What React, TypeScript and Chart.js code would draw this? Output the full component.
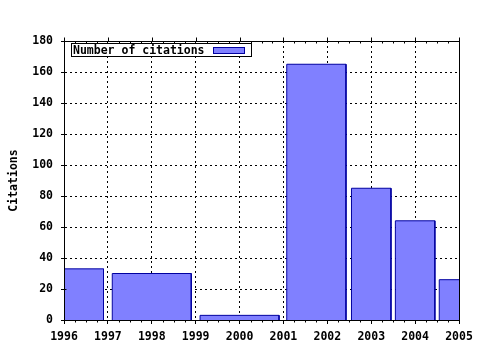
import { useEffect, useRef } from 'react';
import { Chart, registerables } from 'chart.js';

Chart.register(...registerables);

// ---- data ----
const binStarts = [1995, 1997, 1999, 2001, 2002.5, 2003.5, 2004.5];
const binEnds = [1997, 1999, 2001, 2002.5, 2003.5, 2004.5, 2005.5];
const citations = [33, 30, 3, 165, 85, 64, 26];
const yearTicks = [1996, 1997, 1998, 1999, 2000, 2001, 2002, 2003, 2004, 2005];
const citationTicks = [0, 20, 40, 60, 80, 100, 120, 140, 160, 180];
const seriesLabel = 'Number of citations';
const yTitle = 'Citations';

// ---- style ----
const BAR_FRACTION = 0.9;
const FILL = '#8080FF';
const EDGE = '#0000A0';
const FONT_FAMILY = "'DejaVu Sans Mono', monospace";
const FONT_SIZE = 11.5;

const framePlugin = {
  id: 'frameAndMinorTicks',
  afterDraw(chart: any) {
    const { ctx, chartArea: a, scales } = chart;
    const x = scales.x;
    const y = scales.y;
    const top = Math.round(a.top) + 0.5;
    const bottom = Math.round(a.bottom) + 0.5;
    const right = Math.round(a.right) + 0.5;
    const left = Math.round(a.left) + 0.5;
    ctx.save();
    ctx.strokeStyle = '#000';
    ctx.lineWidth = 1;
    ctx.setLineDash([]);
    ctx.beginPath();
    ctx.moveTo(left, top);
    ctx.lineTo(right, top);
    ctx.lineTo(right, bottom);
    yearTicks.forEach((v) => {
      const px = Math.round(x.getPixelForValue(v)) + 0.5;
      ctx.moveTo(px, top - 4);
      ctx.lineTo(px, top);
    });
    for (let i = 0; i < yearTicks.length - 1; i++) {
      for (let q = 1; q < 4; q++) {
        const v = yearTicks[i] + q / 4;
        const px = Math.round(x.getPixelForValue(v)) + 0.5;
        ctx.moveTo(px, bottom);
        ctx.lineTo(px, bottom + 2);
        ctx.moveTo(px, top);
        ctx.lineTo(px, top + 2);
      }
    }
    citationTicks.forEach((v) => {
      const py = Math.round(y.getPixelForValue(v)) + 0.5;
      ctx.moveTo(left, py);
      ctx.lineTo(left + 2, py);
    });
    ctx.stroke();

    // legend
    const ds = chart.data.datasets[0];
    ctx.font = `bold ${FONT_SIZE}px ${FONT_FAMILY}`;
    const tw = ctx.measureText(seriesLabel).width;
    const bx = Math.round(a.left) + 7;
    const by = Math.round(a.top) + 2;
    const padL = 2;
    const gap = 8.5;
    const swW = 31;
    const swH = 6;
    const padR = 7;
    const h = 13;
    const w = Math.round(padL + tw + gap + swW + padR);
    ctx.fillStyle = '#fff';
    ctx.fillRect(bx, by, w, h);
    ctx.strokeStyle = '#000';
    ctx.strokeRect(bx + 0.5, by + 0.5, w, h);
    ctx.fillStyle = '#000';
    ctx.textAlign = 'left';
    ctx.textBaseline = 'middle';
    ctx.fillText(seriesLabel, bx + padL, by + h / 2 + 1.5);
    const sx = Math.round(bx + padL + tw + gap);
    const sy = by + Math.round((h - swH) / 2);
    ctx.fillStyle = ds.backgroundColor;
    ctx.fillRect(sx, sy, swW, swH);
    ctx.strokeStyle = ds.borderColor;
    ctx.strokeRect(sx + 0.5, sy + 0.5, swW, swH);
    ctx.restore();
  },
};

export default function App() {
  const canvasRef = useRef<HTMLCanvasElement | null>(null);

  useEffect(() => {
    const canvas = canvasRef.current;
    if (!canvas) return;

    const datasets = binStarts.map((s, i) => {
      const e = binEnds[i];
      const inset = ((e - s) * (1 - BAR_FRACTION)) / 2;
      const x0 = s + inset;
      const x1 = e - inset;
      const v = citations[i];
      return {
        type: 'line' as const,
        label: seriesLabel,
        data: [
          { x: x0, y: 0 },
          { x: x0, y: v },
          { x: x1, y: v },
          { x: x1, y: 0 },
        ],
        fill: 'origin',
        backgroundColor: FILL,
        borderColor: EDGE,
        borderWidth: 1,
        pointRadius: 0,
        pointHoverRadius: 0,
        tension: 0,
      };
    });

    const font = { family: FONT_FAMILY, size: FONT_SIZE, weight: 'bold' as const };

    const chart = new Chart(canvas, {
      type: 'line',
      data: { datasets: datasets as any },
      options: {
        animation: false,
        responsive: false,
        maintainAspectRatio: false,
        events: [],
        layout: { padding: { left: 0, top: 41, right: 21, bottom: 0 } },
        plugins: {
          legend: { display: false },
          tooltip: { enabled: false },
        },
        scales: {
          x: {
            type: 'linear',
            min: yearTicks[0],
            max: yearTicks[yearTicks.length - 1],
            afterBuildTicks: (scale: any) => {
              scale.ticks = yearTicks.map((v) => ({ value: v }));
            },
            afterFit: (scale: any) => {
              scale.height = 30;
            },
            ticks: {
              color: '#000',
              font,
              padding: 6,
              maxRotation: 0,
              autoSkip: false,
              callback: (v: any) => String(v),
            },
            grid: {
              color: '#000',
              lineWidth: 1,
              tickLength: 4,
              tickColor: '#000',
            },
            border: { display: true, color: '#000', width: 1, dash: [2, 3], z: 1 },
          },
          y: {
            type: 'linear',
            min: citationTicks[0],
            max: citationTicks[citationTicks.length - 1],
            afterBuildTicks: (scale: any) => {
              scale.ticks = citationTicks.map((v) => ({ value: v }));
            },
            afterFit: (scale: any) => {
              scale.width = 64;
            },
            ticks: {
              color: '#000',
              font,
              padding: 8,
              callback: (v: any) => String(v),
            },
            grid: {
              color: '#000',
              lineWidth: 1,
              tickLength: 3,
              tickColor: '#000',
            },
            border: { display: true, color: '#000', width: 1, dash: [2, 3], z: 1 },
            title: {
              display: true,
              text: yTitle,
              color: '#000',
              font,
              padding: { top: 7, bottom: 0 },
            },
          },
        },
      },
      plugins: [framePlugin],
    });

    return () => chart.destroy();
  }, []);

  return (
    <div style={{ position: 'fixed', left: 0, top: 0, width: 480, height: 350, background: '#fff' }}>
      <canvas ref={canvasRef} width={480} height={350} />
    </div>
  );
}
